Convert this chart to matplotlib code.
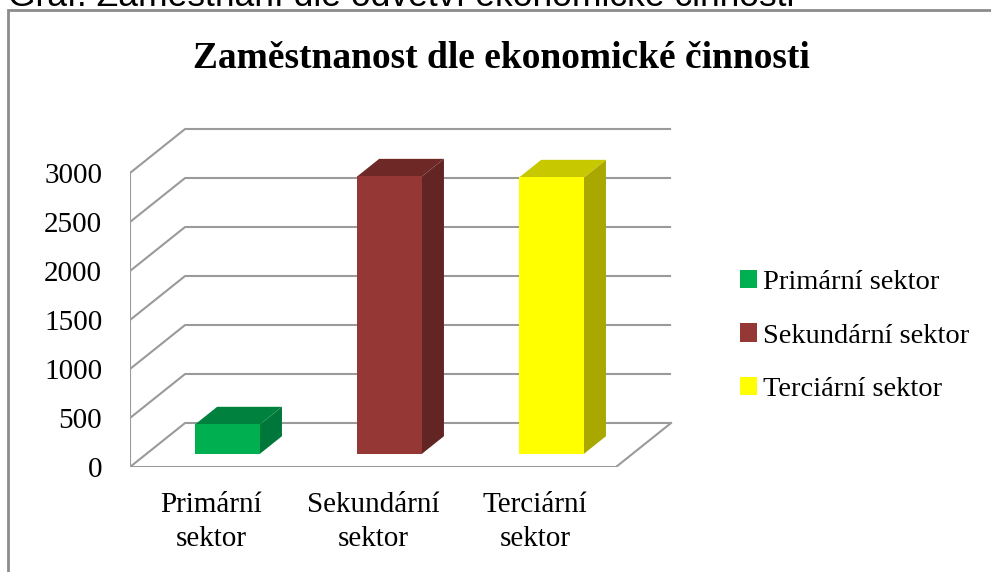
import matplotlib.pyplot as plt
from matplotlib.patches import Rectangle, Patch

# data
categories = ["Primární\nsektor", "Sekundární\nsektor", "Terciární\nsektor"]
legend_labels = ["Primární sektor", "Sekundární sektor", "Terciární sektor"]
values = [300, 2830, 2820]
yticks = [0, 500, 1000, 1500, 2000, 2500, 3000]

# colours: front, side, top
front_colors = ["#00B050", "#953735", "#FFFF00"]
side_colors = ["#00773A", "#632523", "#A8A800"]
top_colors = ["#00823E", "#6E2926", "#C8C800"]

grid_color = "#9A9A9A"
serif = "Liberation Serif"

# pseudo-3d geometry (oblique projection)
DX = 0.34      # depth offset in category units
DY = 449       # depth offset in value units
F0, F1 = 0.3, 0.7   # bar depth range (fraction of wall depth)
W = 0.4        # bar width

fig = plt.figure(figsize=(9.91, 5.72), dpi=100)
fig.patch.set_facecolor("white")

# outer chart frame (cut at right / bottom like the screenshot)
fig.patches.append(Rectangle((8 / 991, -0.2), 1.2, (572 - 10) / 572 + 0.2,
                             transform=fig.transFigure, fill=False,
                             edgecolor="#8C8C8C", lw=2))

# caption cut off at the top
fig.text(8 / 991, (572 - 6) / 572, "Graf: Zaměstnaní dle odvětví ekonomické činnosti",
         family="Liberation Sans", fontsize=25.5, va="baseline", ha="left")

ax = fig.add_axes([130 / 991, (572 - 467) / 572, 567 / 991, 343 / 572])
ax.set_xlim(-0.5, 3.0)
ax.set_ylim(0, 3500)
for s in ax.spines.values():
    s.set_visible(False)
ax.patch.set_alpha(0)

# walls and gridlines
x0 = -0.5
x1 = len(categories) - 0.5
for v in yticks:
    ax.plot([x0, x0 + DX, x1 + DX], [v, v + DY, v + DY], color=grid_color, lw=1.5,
            zorder=1, solid_capstyle="butt")
ax.plot([x0, x0], [0, yticks[-1]], color=grid_color, lw=1.5, zorder=1)
ax.plot([x0, x1, x1 + DX], [0, 0, DY], color=grid_color, lw=1.5, zorder=1)

# bars
xs = [i + F0 * DX for i in range(len(values))]
bars = ax.bar(xs, values, width=W, bottom=F0 * DY, color=front_colors, zorder=3,
              linewidth=0)
ddx = (F1 - F0) * DX
ddy = (F1 - F0) * DY
for b, sc, tc in zip(bars, side_colors, top_colors):
    bl = b.get_x()
    br = bl + b.get_width()
    yb = b.get_y()
    yt = yb + b.get_height()
    ax.fill([br, br + ddx, br + ddx, br], [yb, yb + ddy, yt + ddy, yt], color=sc,
            zorder=2.9, lw=0)
    ax.fill([bl, br, br + ddx, bl + ddx], [yt, yt, yt + ddy, yt + ddy], color=tc,
            zorder=2.9, lw=0)

ax.set_yticks(yticks)
ax.set_yticklabels([str(t) for t in yticks], family=serif, fontsize=21)
ax.set_xticks(range(len(categories)))
ax.set_xticklabels(categories, family=serif, fontsize=21, linespacing=1.42)
ax.tick_params(axis="y", length=0, pad=20)
ax.tick_params(axis="x", length=0, pad=18)

fig.text(501 / 991, (572 - 68) / 572, "Zaměstnanost dle ekonomické činnosti",
         family=serif, fontsize=27, fontweight="bold", ha="center", va="baseline")

handles = [Patch(facecolor=c, edgecolor="none") for c in front_colors]
leg = fig.legend(handles, legend_labels, loc="center left",
                 bbox_to_anchor=(740 / 991, (572 - 336) / 572), frameon=False,
                 prop={"family": serif, "size": 20.5}, handlelength=0.6,
                 handleheight=0.6, handletextpad=0.2, labelspacing=1.0,
                 borderpad=0, borderaxespad=0)

fig.savefig("out.png", dpi=100)
